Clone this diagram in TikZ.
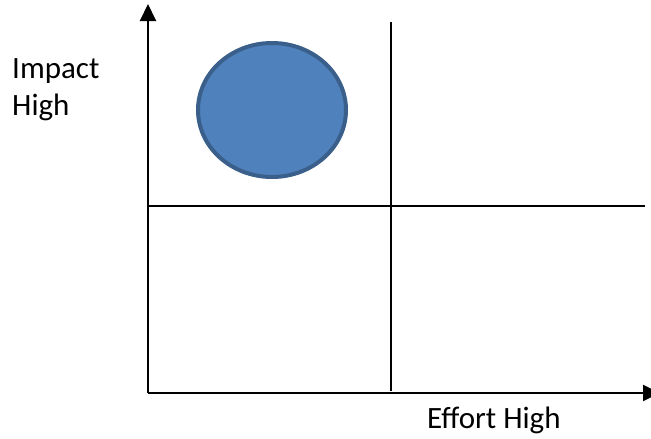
\documentclass[tikz,border=0pt]{standalone}
\usepackage{fontspec}
\setmainfont{Carlito}
\usetikzlibrary{arrows.meta,shapes.geometric}
\definecolor{bubblefill}{HTML}{4F81BD}
\definecolor{bubbleedge}{HTML}{3A5F8B}
\tikzset{
  axis/.style={line width=2pt,-{Triangle[width=16pt,length=17pt]}},
  divider/.style={line width=2pt},
  bubble/.style={ellipse,draw=bubbleedge,fill=bubblefill,line width=4pt,minimum width=148pt,minimum height=134pt,inner sep=0pt},
  lbl/.style={font=\fontsize{31}{37}\selectfont,inner sep=0pt,align=left}
}
\begin{document}
\begin{tikzpicture}[x=1pt,y=-1pt]
\useasboundingbox (0,0) rectangle (651,439);
\coordinate (o) at (148,393);
\coordinate (ytop) at (148,4);
\coordinate (xend) at (660,393);
\coordinate (vtop) at (391,22);
\coordinate (vbot) at (391,391);
\coordinate (hl) at (148,206);
\coordinate (hr) at (645,206);
\draw[divider] (vtop) -- (vbot);
\draw[divider] (hl) -- (hr);
\draw[axis] (o) -- (ytop);
\draw[axis] (o) -- (xend);
\node[bubble] (b) at (272,110) {};
\node[lbl,anchor=base west] (imp) at (12,78) {Impact};
\node[lbl,anchor=base west] (hi) at (12,115) {High};
\node[lbl,anchor=base west] (eff) at (427,428) {Effort High};
\end{tikzpicture}
\end{document}
